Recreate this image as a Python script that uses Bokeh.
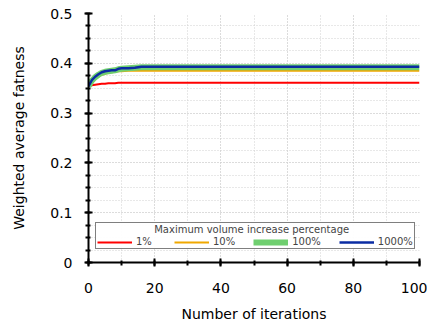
from bokeh.plotting import figure
from bokeh.models import Legend, LegendItem, Range1d, SingleIntervalTicker
from bokeh.embed import file_html
from bokeh.resources import INLINE

iterations = [0, 1, 2, 3, 4, 5, 6, 7, 8, 9, 10, 12, 14, 16, 100]
pct_1 = [0.354, 0.356, 0.357, 0.358, 0.359, 0.359, 0.360, 0.360, 0.360, 0.361, 0.361, 0.361, 0.361, 0.361, 0.361]
pct_10 = [0.354, 0.363, 0.369, 0.373, 0.377, 0.379, 0.381, 0.382, 0.383, 0.384, 0.384, 0.385, 0.385, 0.385, 0.385]
pct_100 = [0.354, 0.365, 0.372, 0.377, 0.381, 0.383, 0.384, 0.385, 0.386, 0.388, 0.389, 0.390, 0.391, 0.392, 0.392]
pct_1000 = [0.354, 0.366, 0.373, 0.378, 0.382, 0.384, 0.385, 0.386, 0.386, 0.389, 0.390, 0.390, 0.391, 0.393, 0.393]
series_labels = ["1%", "10%", "100%", "1000%"]
legend_title = "Maximum volume increase percentage"

FONT = "DejaVu Sans"

p = figure(width=427, height=324, output_backend="svg", toolbar_location=None,
           x_range=Range1d(0, 100), y_range=Range1d(0, 0.5),
           min_border_left=88, min_border_right=8, min_border_top=13, min_border_bottom=59)
p.outline_line_color = None

r1 = p.line(iterations, pct_1, line_color="#ff0000", line_width=2)
r10 = p.line(iterations, pct_10, line_color="#f0a800", line_width=2)
r100 = p.line(iterations, pct_100, line_color="#6fcf6f", line_width=6)
r1000 = p.line(iterations, pct_1000, line_color="#0b2ca3", line_width=2.5)

p.xaxis.ticker = SingleIntervalTicker(interval=20, num_minor_ticks=2)
p.yaxis.ticker = SingleIntervalTicker(interval=0.1, num_minor_ticks=4)
p.xaxis.axis_label = "Number of iterations"
p.yaxis.axis_label = "Weighted average fatness"

for ax in (p.xaxis, p.yaxis):
    ax.axis_line_width = 2
    ax.axis_line_color = "black"
    ax.major_tick_line_width = 2
    ax.minor_tick_line_width = 2
    ax.major_tick_in = 4
    ax.major_tick_out = 4
    ax.minor_tick_in = 2
    ax.minor_tick_out = 3
    ax.major_label_text_font = FONT
    ax.major_label_text_font_size = "14px"
    ax.major_label_text_color = "black"
    ax.axis_label_text_font = FONT
    ax.axis_label_text_font_size = "14px"
    ax.axis_label_text_font_style = "normal"
    ax.axis_label_text_color = "black"
p.xaxis.major_label_standoff = 16
p.xaxis.axis_label_standoff = 10
p.yaxis.major_label_standoff = 12
p.yaxis.axis_label_standoff = 20

for g in (p.xgrid, p.ygrid):
    g.grid_line_color = "#d0d0d0"
    g.grid_line_dash = "1 2"
    g.minor_grid_line_color = "#d0d0d0"
    g.minor_grid_line_dash = "1 2"

legend = Legend(items=[LegendItem(label=series_labels[0], renderers=[r1]),
                       LegendItem(label=series_labels[1], renderers=[r10]),
                       LegendItem(label=series_labels[2], renderers=[r100]),
                       LegendItem(label=series_labels[3], renderers=[r1000])],
                orientation="horizontal", location=(7, 13),
                title="\u00a0" * 18 + legend_title)
legend.title_text_font = FONT
legend.title_text_font_size = "10px"
legend.title_text_font_style = "normal"
legend.label_text_font = FONT
legend.label_text_font_size = "10px"
legend.border_line_color = "black"
legend.border_line_width = 1
legend.glyph_width = 35
legend.glyph_height = 8
legend.label_height = 8
legend.spacing = 18
legend.padding = 1
legend.margin = 0
legend.label_standoff = 4
legend.title_standoff = 1
p.add_layout(legend, "center")

open("out.html", "w").write(file_html(p, INLINE))
